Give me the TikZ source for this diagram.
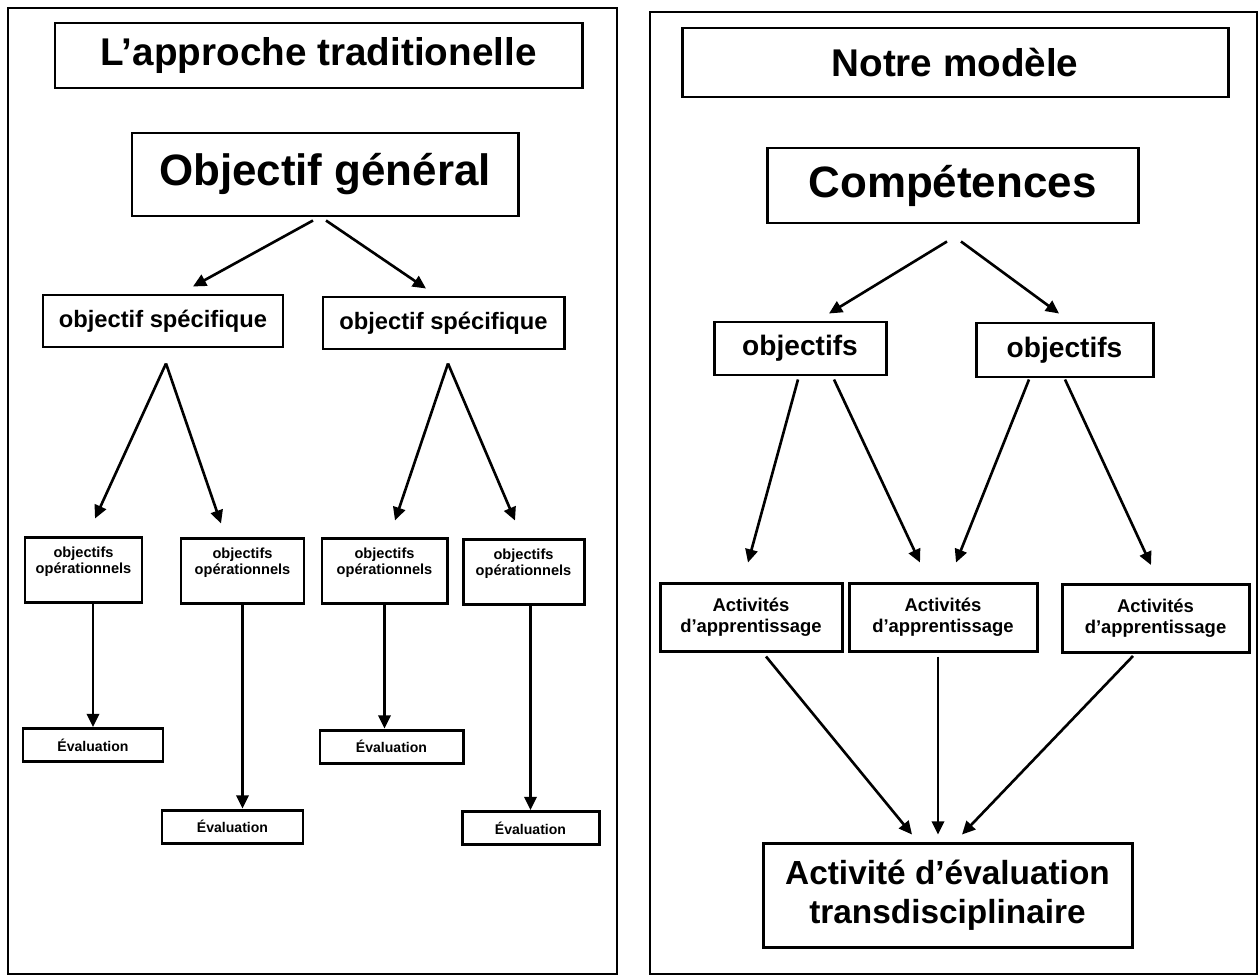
\documentclass[tikz,border=0pt]{standalone}
\usepackage{fontspec}
\setmainfont{Liberation Sans}
\usetikzlibrary{arrows.meta,calc}

% 1 unite = 1 pixel de l'image
\newlength{\upx}
\setlength{\upx}{0.02cm}
\newcommand{\haut}[1]{\parbox[c][65\upx][t]{112\upx}{\centering\vspace*{10\upx}#1}}

\tikzset{
  boite/.style={draw, line width=1.7pt, inner sep=0pt, align=center, font=\bfseries},
  titre/.style={boite, font=\bfseries\fontsize{22}{26}\selectfont},
  grand/.style={boite, font=\bfseries\fontsize{25}{30}\selectfont},
  moyen/.style={boite, font=\bfseries\fontsize{13.5}{16}\selectfont},
  objbox/.style={boite, font=\bfseries\fontsize{16}{19}\selectfont},
  opbox/.style={boite, minimum height=65\upx, font=\bfseries\fontsize{8.3}{9.1}\selectfont},
  evbox/.style={boite, font=\bfseries\fontsize{8}{10}\selectfont},
  actbox/.style={boite, font=\bfseries\fontsize{10.5}{12}\selectfont},
  finbox/.style={boite, font=\bfseries\fontsize{19}{22.2}\selectfont},
  fleche/.style={-{Triangle[length=7.5pt,width=7pt]}, line width=1.5pt},
}

\begin{document}
\begin{tikzpicture}[x=0.02cm, y=-0.02cm]
  \useasboundingbox (0,0) rectangle (1260,977);
  % les deux cadres
  \draw[line width=1.4pt] (8,8) rectangle (617,974);
  \draw[line width=1.4pt] (650,12) rectangle (1257,974);

  % ---- L'approche traditionelle ----
  \node[titre, minimum width=527\upx, minimum height=65\upx] (titreG) at (318.5,55.5) {L’approche traditionelle};
  \node[grand, minimum width=386\upx, minimum height=83\upx] (og) at (325,174.5) {Objectif général};
  \node[moyen, minimum width=240\upx, minimum height=52\upx] (spec1) at (163,321) {objectif spécifique};
  \node[moyen, minimum width=241\upx, minimum height=52\upx] (spec2) at (443.5,323) {objectif spécifique};
  % objectifs operationnels
  \foreach \n/\x/\y/\w in {1/83.5/569.5/117, 2/242.5/570.5/123, 3/384.5/570.5/125, 4/523.5/571.5/121}
    \node[opbox, minimum width=\w\upx] (op\n) at (\x,\y) {\haut{objectifs\\opérationnels}};
  % evaluations
  \foreach \n/\x/\y/\w in {1/93/745/140, 2/232.5/826.5/141, 3/391.5/746.5/143, 4/530.5/828/137}
    \node[evbox, minimum width=\w\upx, minimum height=33\upx] (ev\n) at (\x,\y) {Évaluation};

  \draw[fleche] ($(og.south)+(-12,3)$) -- ($(spec1.north)+(30,-7)$);
  \draw[fleche] ($(og.south)+(1,3)$) -- ($(spec2.north)+(-17.5,-7)$);
  \coordinate (s1) at ($(spec1.south)+(3,15)$);
  \coordinate (s2) at ($(spec2.south)+(4.5,13)$);
  \draw[fleche] (s1) -- ($(op1.north)+(11.5,-17)$);
  \draw[fleche] (s1) -- ($(op2.north)+(-21.5,-13)$);
  \draw[fleche] (s2) -- ($(op3.north)+(10.5,-16)$);
  \draw[fleche] (s2) -- ($(op4.north)+(-8.5,-17)$);
  \draw[fleche] (op1.south -| ev1.north) -- (ev1.north);
  \draw[fleche] (op2.south) -- (op2.south |- ev2.north);
  \draw[fleche] (op3.south) -- (op3.south |- ev3.north);
  \draw[fleche] (op4.south -| ev4.north) -- (ev4.north);

  % ---- Notre modele ----
  \node[titre, minimum width=546\upx, minimum height=69\upx] (titreD) at (955,62.5) {Notre modèle};
  \node[grand, minimum width=371\upx, minimum height=75\upx] (comp) at (952.5,185.5) {Compétences};
  \node[objbox, minimum width=172\upx, minimum height=53\upx] (obj1) at (800,348.5) {objectifs};
  \node[objbox, minimum width=177\upx, minimum height=54\upx] (obj2) at (1064.5,350) {objectifs};
  \foreach \n/\x/\y/\w in {1/751/617/182, 2/943/617/188, 3/1155.5/618.5/187}
    \node[actbox, minimum width=\w\upx, minimum height=68\upx] (act\n) at (\x,\y) {Activités\\d’apprentissage};
  \node[finbox, minimum width=369\upx, minimum height=104\upx] (fin) at (947.5,895) {Activité d’évaluation\\transdisciplinaire};

  \draw[fleche] ($(comp.south)+(-5.5,17)$) -- ($(obj1.north)+(29,-7)$);
  \draw[fleche] ($(comp.south)+(8.5,17)$) -- ($(obj2.north)+(-5.5,-8)$);
  \draw[fleche] ($(obj1.south)+(-2,3)$) -- ($(act1.north)+(-3,-19)$);
  \draw[fleche] ($(obj1.south)+(34,3)$) -- ($(act2.north)+(-23,-19)$);
  \draw[fleche] ($(obj2.south)+(-35.5,1)$) -- ($(act2.north)+(13,-19)$);
  \draw[fleche] ($(obj2.south)+(0.5,1)$) -- ($(act3.north)+(-4.5,-18)$);
  \draw[fleche] ($(act1.south)+(15,4)$) -- ($(fin.north)+(-35.5,-7)$);
  \draw[fleche] ($(act2.south)+(-5,4)$) -- ($(fin.north)+(-9.5,-7)$);
  \draw[fleche] ($(act3.south)+(-22.5,2)$) -- ($(fin.north)+(14.5,-7)$);
\end{tikzpicture}
\end{document}
